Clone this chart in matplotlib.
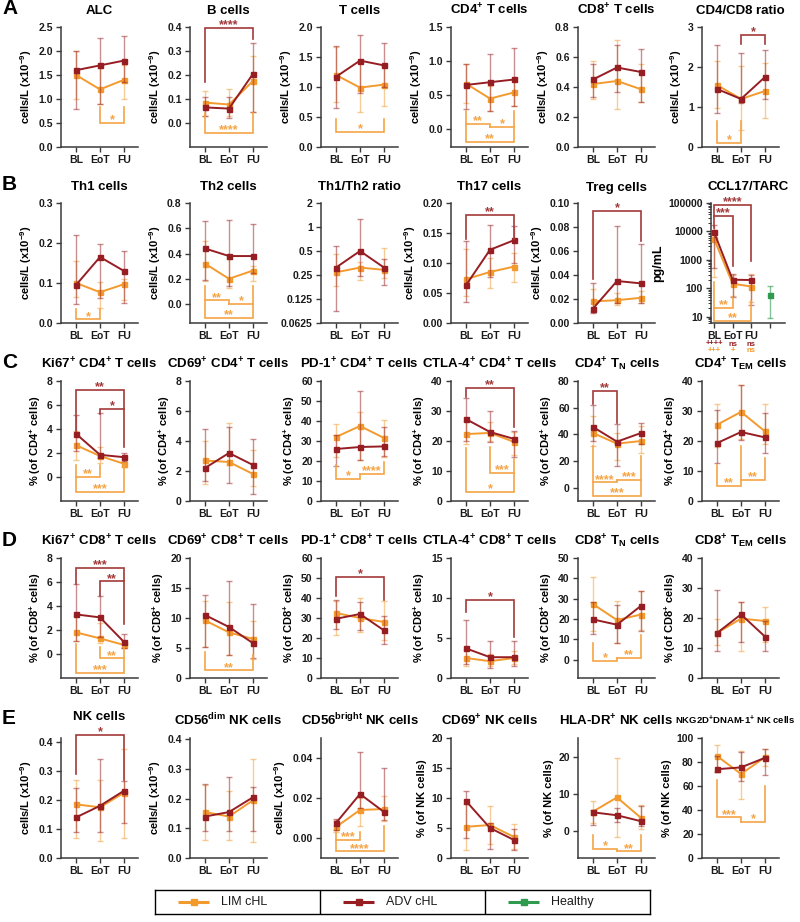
import matplotlib
matplotlib.use("Agg")
import matplotlib.pyplot as plt
from matplotlib.transforms import blended_transform_factory
from matplotlib.ticker import LogLocator, NullFormatter

plt.rcParams.update({
    "font.family": "Liberation Sans",
    "font.weight": "bold",
    "mathtext.fontset": "custom",
    "mathtext.rm": "Liberation Sans:bold",
    "mathtext.bf": "Liberation Sans:bold",
    "mathtext.it": "Liberation Sans:bold:italic",
    "mathtext.sf": "Liberation Sans:bold",
    "mathtext.default": "rm",
    "axes.linewidth": 1.1,
    "axes.edgecolor": "#3a3a3a",
    "xtick.major.width": 1.0,
    "ytick.major.width": 1.0,
    "xtick.major.size": 3.5,
    "ytick.major.size": 3.5,
    "xtick.color": "#3a3a3a",
    "ytick.color": "#3a3a3a",
    "xtick.labelcolor": "#1a1a1a",
    "ytick.labelcolor": "#1a1a1a",
    "xtick.labelsize": 7.5,
    "ytick.labelsize": 7.5,
})

LIM_C = "#F39A2E"
ADV_C = "#961E23"
HEALTHY_C = "#2E9B4E"
SIG_C = {"lim": "#F6A445", "adv": "#A33A3A"}

timepoints = ["BL", "EoT", "FU"]

# %%
# values: (median, lower bar end, upper bar end) for BL, EoT, FU
alc_lim = [(1.5, 1.0, 2.0), (1.2, 0.9, 1.65), (1.4, 1.0, 1.7)]
alc_adv = [(1.6, 0.8, 2.0), (1.7, 0.9, 2.28), (1.8, 1.35, 2.32)]
bcell_lim = [(0.085, 0.03, 0.135), (0.077, 0.03, 0.14), (0.175, 0.045, 0.28)]
bcell_adv = [(0.065, 0.03, 0.11), (0.06, 0.02, 0.11), (0.205, 0.045, 0.335)]
tcell_lim = [(1.2, 0.75, 1.67), (0.99, 0.59, 1.40), (1.04, 0.68, 1.35)]
tcell_adv = [(1.17, 0.65, 1.68), (1.44, 0.9, 1.87), (1.36, 1.0, 1.74)]
cd4_lim = [(0.67, 0.38, 0.96), (0.45, 0.27, 0.63), (0.54, 0.34, 0.72)]
cd4_adv = [(0.65, 0.30, 0.96), (0.69, 0.27, 1.10), (0.73, 0.34, 1.19)]
cd8_lim = [(0.42, 0.32, 0.57), (0.44, 0.25, 0.71), (0.385, 0.30, 0.555)]
cd8_adv = [(0.45, 0.33, 0.55), (0.53, 0.365, 0.68), (0.50, 0.30, 0.65)]
ratio_lim = [(1.55, 0.97, 2.15), (1.2, 0.43, 2.02), (1.4, 0.73, 2.1)]
ratio_adv = [(1.45, 0.85, 2.55), (1.2, 1.1, 2.34), (1.75, 1.2, 2.42)]

th1_lim = [(0.1, 0.065, 0.155), (0.077, 0.037, 0.103), (0.097, 0.058, 0.11)]
th1_adv = [(0.095, 0.047, 0.22), (0.165, 0.063, 0.197), (0.13, 0.05, 0.18)]
th2_lim = [(0.32, 0.18, 0.5), (0.2, 0.13, 0.36), (0.265, 0.18, 0.3)]
th2_adv = [(0.44, 0.19, 0.655), (0.38, 0.14, 0.665), (0.38, 0.245, 0.63)]
th1th2_lim = [(0.27, 0.184, 0.46), (0.31, 0.214, 0.36), (0.29, 0.23, 0.54)]
th1th2_adv = [(0.31, 0.088, 0.57), (0.5, 0.24, 1.26), (0.31, 0.19, 0.40)]
th17_lim = [(0.073, 0.045, 0.124), (0.085, 0.058, 0.108), (0.094, 0.069, 0.117)]
th17_adv = [(0.063, 0.035, 0.137), (0.122, 0.077, 0.164), (0.138, 0.10, 0.161)]
treg_lim = [(0.018, 0.010, 0.028), (0.019, 0.015, 0.025), (0.021, 0.017, 0.027)]
treg_adv = [(0.012, 0.008, 0.033), (0.035, 0.017, 0.081), (0.033, 0.017, 0.066)]
ccl17_lim = [(5500, 240, 10000), (145, 55, 290), (115, 33, 320)]
ccl17_adv = [(9500, 500, 17000), (200, 50, 320), (195, 25, 300)]
ccl17_healthy = (60, 9, 118)
ccl17_vs_healthy_adv = ["++++", "ns", "ns"]
ccl17_vs_healthy_lim = ["+++", "+", "ns"]

ki67cd4_lim = [(2.65, 1.45, 3.8), (1.75, 1.2, 2.5), (1.1, 0.8, 1.5)]
ki67cd4_adv = [(3.6, 2.2, 5.2), (1.85, 1.6, 5.3), (1.65, 1.3, 2.0)]
cd69cd4_lim = [(2.7, 1.1, 4.0), (2.6, 2.4, 5.2), (1.8, 1.0, 3.4)]
cd69cd4_adv = [(2.2, 1.3, 4.8), (3.2, 1.2, 4.9), (2.4, 0.47, 4.15)]
pd1cd4_lim = [(32, 22, 38.5), (37.5, 20.5, 44.5), (31.5, 22, 40.5)]
pd1cd4_adv = [(26, 17.5, 33), (27, 20.5, 55), (27.3, 22.5, 37)]
ctla4cd4_lim = [(22.3, 19, 26.5), (22.7, 20, 26.4), (19.7, 15.3, 23)]
ctla4cd4_adv = [(27.3, 20, 34.4), (23, 19.7, 30), (20.7, 14.8, 23.3)]
cd4tn_lim = [(41, 31, 54), (33, 21, 41), (35, 26, 46)]
cd4tn_adv = [(45.5, 35, 62), (34.5, 16, 48), (41, 33, 48.5)]
cd4tem_lim = [(25.4, 18, 32.3), (29.7, 20.5, 38.7), (23.2, 19, 32.3)]
cd4tem_adv = [(19.3, 12.5, 30.2), (23, 20.2, 38.7), (21.2, 16, 29.3)]

ki67cd8_lim = [(1.8, 1.1, 3.2), (1.3, 0.9, 2.6), (0.75, 0.5, 1.1)]
ki67cd8_adv = [(3.3, 1.1, 5.8), (3.05, 1.4, 4.85), (1.0, 0.5, 1.65)]
cd69cd8_lim = [(9.6, 5.2, 12.8), (7.6, 3.8, 12.6), (6.5, 3.2, 9.5)]
cd69cd8_adv = [(10.5, 5.2, 13.9), (8.5, 3.8, 16.2), (5.8, 3.3, 12.4)]
pd1cd8_lim = [(32.5, 21.5, 38.6), (30, 23, 40), (28, 19, 38.5)]
pd1cd8_adv = [(29.6, 24.5, 38.8), (32, 24, 38), (23.8, 17, 30.8)]
ctla4cd8_lim = [(2.5, 1.5, 3.5), (2.1, 1.5, 3.0), (2.5, 1.7, 3.4)]
ctla4cd8_adv = [(3.7, 1.8, 7.3), (2.6, 1.3, 4.6), (2.6, 1.5, 4.6)]
cd8tn_lim = [(27.3, 14, 40.8), (19.5, 8, 29), (22.2, 14.5, 33.8)]
cd8tn_adv = [(19.8, 12.5, 28.5), (17.2, 8, 27), (26.5, 14, 33.8)]
cd8tem_lim = [(15, 11, 19.8), (19.8, 9, 25.3), (19, 12, 23.7)]
cd8tem_adv = [(15, 9, 29.5), (21.2, 12, 25.5), (13.8, 9, 18.9)]

nk_lim = [(0.185, 0.07, 0.27), (0.175, 0.06, 0.27), (0.225, 0.07, 0.375)]
nk_adv = [(0.14, 0.09, 0.24), (0.18, 0.09, 0.34), (0.232, 0.12, 0.265)]
cd56dim_lim = [(0.155, 0.06, 0.245), (0.14, 0.06, 0.225), (0.195, 0.055, 0.335)]
cd56dim_adv = [(0.14, 0.09, 0.25), (0.155, 0.09, 0.275), (0.205, 0.09, 0.24)]
cd56br_lim = [(0.0055, 0.003, 0.009), (0.014, 0.006, 0.02), (0.0145, 0.0085, 0.021)]
cd56br_adv = [(0.0075, 0.004, 0.0095), (0.022, 0.015, 0.043), (0.013, 0.009, 0.035)]
cd69nk_lim = [(5.2, 1.3, 9.0), (5.5, 2.4, 8.6), (3.5, 1.5, 5.6)]
cd69nk_adv = [(9.5, 3.3, 11.2), (5.0, 1.5, 5.8), (3.0, 1.4, 4.9)]
hladr_lim = [(5.2, 2.0, 8.0), (9.0, -1.7, 19.7), (3.5, 0.5, 7.0)]
hladr_adv = [(5.0, 1.5, 5.5), (4.2, 2.4, 6.2), (2.6, 1.2, 6.7)]
nkg2d_lim = [(85, 72, 94), (70, 49, 89), (84, 77, 91)]
nkg2d_adv = [(74, 72, 85), (75.5, 64, 88), (83.5, 69, 91)]

# significance brackets: (group, from, to, level, left arm end, right arm end, stars)
alc_sig = [("lim", 1, 2, 0.5, 0.83, 0.83, "*")]
bcell_sig = [("adv", 0, 2, 0.395, 0.17, 0.35, "****"), ("lim", 0, 2, -0.042, 0.04, 0.04, "****")]
tcell_sig = [("lim", 0, 2, 0.25, 0.47, 0.47, "*")]
cd4_sig = [("lim", 0, 1, 0.08, 0.27, 0.03, "**"), ("lim", 1, 2, 0.03, 0.03, 0.27, "*"),
           ("lim", 0, 2, -0.18, 0.08, 0.03, "**")]
cd8_sig = []
ratio_sig = [("adv", 1, 2, 2.8, 2.58, 2.58, "*"), ("lim", 0, 1, 0.1, 0.65, 0.65, "*")]
th1_sig = [("lim", 0, 1, 0.009, 0.034, 0.034, "*")]
th2_sig = [("lim", 0, 1, 0.03, 0.14, 0.0, "**"), ("lim", 1, 2, 0.0, 0.0, 0.14, "*"),
           ("lim", 0, 2, -0.11, 0.03, 0.0, "**")]
th1th2_sig = []
th17_sig = [("adv", 0, 2, 0.18, 0.14, 0.14, "**")]
treg_sig = [("adv", 0, 2, 0.0935, 0.037, 0.068, "*")]
ccl17_sig = [("adv", 0, 2, 85000, 12800, 930, "****"), ("adv", 0, 1, 35000, 35000, 600, "***"),
             ("lim", 0, 1, 20, 160, 46, "**"), ("lim", 0, 2, 7.3, 20, 35, "**")]
ki67cd4_sig = [("adv", 0, 2, 7.23, 3.8, 2.5, "**"), ("adv", 1, 2, 5.65, 5.25, 5.65, "*"),
               ("lim", 0, 1, 0.0, 1.0, 1.0, "**"), ("lim", 0, 2, -1.25, 0.0, 1.0, "***")]
cd69cd4_sig = []
pd1cd4_sig = [("lim", 0, 1, 11.0, 18, 13.5, "*"), ("lim", 1, 2, 13.5, 13.5, 19.7, "****")]
ctla4cd4_sig = [("adv", 0, 2, 37.7, 34.5, 24.5, "**"), ("lim", 1, 2, 9.3, 18, 14, "***"),
                ("lim", 0, 2, 3.0, 17.7, 9.3, "*")]
cd4tn_sig = [("adv", 0, 1, 72.5, 63, 48.7, "**"), ("lim", 0, 1, 4, 31, 6, "****"),
             ("lim", 1, 2, 6, 6, 24, "***"), ("lim", 0, 2, -6, 4, 6, "***")]
cd4tem_sig = [("lim", 0, 1, 5.0, 12, 18.3, "**"), ("lim", 1, 2, 7.0, 7.0, 14.3, "**")]
ki67cd8_sig = [("adv", 0, 2, 7.2, 5.8, 2.5, "***"), ("adv", 1, 2, 6.05, 4.84, 6.05, "**"),
               ("lim", 1, 2, -0.36, 0.56, 0.56, "**"), ("lim", 0, 2, -1.6, 0.83, -0.36, "***")]
cd69cd8_sig = [("lim", 0, 2, 1.28, 4.4, 3.9, "**")]
pd1cd8_sig = [("adv", 0, 2, 50.5, 41, 39, "*")]
ctla4cd8_sig = [("adv", 0, 2, 9.8, 8.3, 5.1, "*")]
cd8tn_sig = [("lim", 0, 1, -0.5, 8, 0.8, "*"), ("lim", 1, 2, 0.8, 0.8, 12, "**")]
cd8tem_sig = []
nk_sig = [("adv", 0, 2, 0.425, 0.29, 0.27, "*")]
cd56dim_sig = []
cd56br_sig = [("lim", 0, 1, -0.0008, 0.003, 0.003, "***"), ("lim", 0, 2, -0.0067, -0.0008, 0.006, "****")]
cd69nk_sig = []
hladr_sig = [("lim", 0, 1, -4.9, -1.2, -5.5, "*"), ("lim", 1, 2, -5.5, -5.5, -1.2, "**")]
nkg2d_sig = [("lim", 0, 1, 33.8, 65, 30.4, "***"), ("lim", 1, 2, 30.4, 30.4, 60, "*")]

# %%
CELLS = "cells/L (x10$^{-9}$)"
PCT4 = "% (of CD4$^{+}$ cells)"
PCT8 = "% (of CD8$^{+}$ cells)"
PCTNK = "% (of NK cells)"

def rng(a, b, s):
    out, v = [], a
    while v <= b + 1e-9:
        out.append(round(v, 6))
        v += s
    return out

# row, col, title, ylabel, lim, adv, sig, ylim, yticks, fmt, scale
panels = [
    (0, 0, "ALC", CELLS, alc_lim, alc_adv, alc_sig, (0, 2.5), rng(0, 2.5, 0.5), "{:.1f}", None),
    (0, 1, "B cells", CELLS, bcell_lim, bcell_adv, bcell_sig, (-0.1, 0.4), rng(0, 0.4, 0.1), "{:.1f}", None),
    (0, 2, "T cells", CELLS, tcell_lim, tcell_adv, tcell_sig, (0, 2.0), rng(0, 2, 0.5), "{:.1f}", None),
    (0, 3, "CD4$^{+}$ T cells", CELLS, cd4_lim, cd4_adv, cd4_sig, (-0.26, 1.5), rng(0, 1.5, 0.5), "{:.1f}", None),
    (0, 4, "CD8$^{+}$ T cells", CELLS, cd8_lim, cd8_adv, cd8_sig, (0, 0.8), rng(0, 0.8, 0.2), "{:.1f}", None),
    (0, 5, "CD4/CD8 ratio", CELLS, ratio_lim, ratio_adv, ratio_sig, (0, 3), rng(0, 3, 1), "{:.0f}", None),
    (1, 0, "Th1 cells", CELLS, th1_lim, th1_adv, th1_sig, (0, 0.3), rng(0, 0.3, 0.1), "{:.1f}", None),
    (1, 1, "Th2 cells", CELLS, th2_lim, th2_adv, th2_sig, (-0.15, 0.8), rng(0, 0.8, 0.2), "{:.1f}", None),
    (1, 2, "Th1/Th2 ratio", "", th1th2_lim, th1th2_adv, th1th2_sig, (0.0625, 2),
     [0.0625, 0.125, 0.25, 0.5, 1, 2], "{:g}", 2),
    (1, 3, "Th17 cells", CELLS, th17_lim, th17_adv, th17_sig, (0, 0.2), rng(0, 0.2, 0.05), "{:.2f}", None),
    (1, 4, "Treg cells", CELLS, treg_lim, treg_adv, treg_sig, (0, 0.1), rng(0, 0.1, 0.02), "{:.2f}", None),
    (1, 5, "CCL17/TARC", "pg/mL", ccl17_lim, ccl17_adv, ccl17_sig, (6, 100000),
     [10, 100, 1000, 10000, 100000], "{:g}", 10),
    (2, 0, "Ki67$^{+}$ CD4$^{+}$ T cells", PCT4, ki67cd4_lim, ki67cd4_adv, ki67cd4_sig, (-2, 8), rng(0, 8, 2), "{:.0f}", None),
    (2, 1, "CD69$^{+}$ CD4$^{+}$ T cells", PCT4, cd69cd4_lim, cd69cd4_adv, cd69cd4_sig, (0, 8), rng(0, 8, 2), "{:.0f}", None),
    (2, 2, "PD-1$^{+}$ CD4$^{+}$ T cells", PCT4, pd1cd4_lim, pd1cd4_adv, pd1cd4_sig, (0, 60), rng(0, 60, 10), "{:.0f}", None),
    (2, 3, "CTLA-4$^{+}$ CD4$^{+}$ T cells", PCT4, ctla4cd4_lim, ctla4cd4_adv, ctla4cd4_sig, (0, 40), rng(0, 40, 10), "{:.0f}", None),
    (2, 4, "CD4$^{+}$ T$_{N}$ cells", PCT4, cd4tn_lim, cd4tn_adv, cd4tn_sig, (-10, 80), rng(0, 80, 20), "{:.0f}", None),
    (2, 5, "CD4$^{+}$ T$_{EM}$ cells", PCT4, cd4tem_lim, cd4tem_adv, cd4tem_sig, (0, 40), rng(0, 40, 10), "{:.0f}", None),
    (3, 0, "Ki67$^{+}$ CD8$^{+}$ T cells", PCT8, ki67cd8_lim, ki67cd8_adv, ki67cd8_sig, (-2, 8), rng(0, 8, 2), "{:.0f}", None),
    (3, 1, "CD69$^{+}$ CD8$^{+}$ T cells", PCT8, cd69cd8_lim, cd69cd8_adv, cd69cd8_sig, (0, 20), rng(0, 20, 5), "{:.0f}", None),
    (3, 2, "PD-1$^{+}$ CD8$^{+}$ T cells", PCT8, pd1cd8_lim, pd1cd8_adv, pd1cd8_sig, (0, 60), rng(0, 60, 10), "{:.0f}", None),
    (3, 3, "CTLA-4$^{+}$ CD8$^{+}$ T cells", PCT8, ctla4cd8_lim, ctla4cd8_adv, ctla4cd8_sig, (0, 15), rng(0, 15, 5), "{:.0f}", None),
    (3, 4, "CD8$^{+}$ T$_{N}$ cells", PCT8, cd8tn_lim, cd8tn_adv, cd8tn_sig, (-9, 50), rng(0, 50, 10), "{:.0f}", None),
    (3, 5, "CD8$^{+}$ T$_{EM}$ cells", PCT8, cd8tem_lim, cd8tem_adv, cd8tem_sig, (0, 40), rng(0, 40, 10), "{:.0f}", None),
    (4, 0, "NK cells", CELLS, nk_lim, nk_adv, nk_sig, (0, 0.414), rng(0, 0.4, 0.1), "{:.1f}", None),
    (4, 1, "CD56$^{dim}$ NK cells", CELLS, cd56dim_lim, cd56dim_adv, cd56dim_sig, (0, 0.405), rng(0, 0.4, 0.1), "{:.1f}", None),
    (4, 2, "CD56$^{bright}$ NK cells", CELLS, cd56br_lim, cd56br_adv, cd56br_sig, (-0.01, 0.05), [0, 0.02, 0.04], "{:.2f}", None),
    (4, 3, "CD69$^{+}$ NK cells", PCTNK, cd69nk_lim, cd69nk_adv, cd69nk_sig, (0, 20), rng(0, 20, 5), "{:.0f}", None),
    (4, 4, "HLA-DR$^{+}$ NK cells", PCTNK, hladr_lim, hladr_adv, hladr_sig, (-7.3, 25), [0, 10, 20], "{:.0f}", None),
    (4, 5, "NKG2D$^{+}$DNAM-1$^{+}$ NK cells", PCTNK, nkg2d_lim, nkg2d_adv, nkg2d_sig, (0, 100), rng(0, 100, 20), "{:.0f}", None),
]

# layout in pixels
W_PX, H_PX = 800, 922
col_bl = [76, 205, 336, 466, 593, 717]
row_top = [27, 203, 381, 558, 738]
AX_H = 120
STEP = 24

def rect(left, top, w, h):
    return [left / W_PX, 1 - (top + h) / H_PX, w / W_PX, h / H_PX]

def draw_group(ax, xs, vals, color, z):
    v = [t[0] for t in vals]
    lo = [t[0] - t[1] for t in vals]
    hi = [t[2] - t[0] for t in vals]
    ax.errorbar(xs, v, yerr=[lo, hi], fmt="none", ecolor=color, alpha=0.5,
                elinewidth=1.0, capsize=2.3, capthick=1.0, zorder=z)
    ax.plot(xs, v, color=color, lw=1.4, marker="s", ms=3.6, zorder=z + 1)

def bracket(ax, b):
    grp, x1, x2, y, a1, a2, stars = b
    c = SIG_C[grp]
    ax.plot([x1, x1, x2, x2], [a1, y, y, a2], color=c, lw=1.2, clip_on=False,
            solid_joinstyle="miter", zorder=5)
    ax.annotate(stars, ((x1 + x2) / 2, y), xytext=(0, -0.3), textcoords="offset points",
                ha="center", va="baseline", color=c, fontsize=9, fontweight="bold",
                annotation_clip=False, zorder=6)

fig = plt.figure(figsize=(8, 9.22), dpi=100)

for (r, c, title, ylab, lim, adv, sig, ylim, yt, fmt, scale) in panels:
    if scale == 10:
        # CCL17 panel has a fourth (healthy) group and tighter spacing
        step = 18.5
        ax = fig.add_axes(rect(711, row_top[r], 74, AX_H))
        ax.set_xlim(-3 / step, 3 + 15 / step)
    else:
        left = col_bl[c] - 15
        ax = fig.add_axes(rect(left, row_top[r], 15 + 2 * STEP + 14, AX_H))
        ax.set_xlim(-15 / STEP, 2 + 14 / STEP)

    if scale:
        ax.set_yscale("log", base=scale)
    ax.set_ylim(*ylim)

    xs = [0, 1, 2]
    draw_group(ax, xs, lim, LIM_C, 2)
    draw_group(ax, xs, adv, ADV_C, 3)

    if scale == 10:
        hv, hlo, hhi = ccl17_healthy
        ax.errorbar([3], [hv], yerr=[[hv - hlo], [hhi - hv]], fmt="none", ecolor=HEALTHY_C,
                    alpha=0.6, elinewidth=1.0, capsize=2.3, capthick=1.0, zorder=2)
        ax.plot([3], [hv], color=HEALTHY_C, marker="s", ms=3.6, zorder=3)
        ax.set_xticks([0, 1, 2, 3])
        ax.set_xticklabels(timepoints + [""])
        ax.yaxis.set_minor_locator(LogLocator(base=10, subs=range(2, 10), numticks=20))
        ax.yaxis.set_minor_formatter(NullFormatter())
        ax.tick_params(axis="y", which="minor", length=2, width=0.7)
        tr = blended_transform_factory(ax.transData, ax.transAxes)
        for i in range(3):
            ax.text(i, -0.175, ccl17_vs_healthy_adv[i], transform=tr, ha="center", va="center",
                    fontsize=5.5, color=ADV_C)
            ax.text(i, -0.23, ccl17_vs_healthy_lim[i], transform=tr, ha="center", va="center",
                    fontsize=5.5, color=LIM_C)
    else:
        ax.set_xticks(xs)
        ax.set_xticklabels(timepoints)
        if scale:
            ax.minorticks_off()

    ax.set_yticks(yt)
    ax.set_yticklabels([fmt.format(t) for t in yt])

    for s in ("top", "right"):
        ax.spines[s].set_visible(False)
    ax.tick_params(axis="both", which="major", pad=2.5)

    if "NKG2D" in title:
        ax.set_title(title, fontsize=6.8, fontweight="bold", pad=10, x=0.43)
    elif title == "NK cells":
        ax.set_title(title, fontsize=9.5, fontweight="bold", pad=13)
    else:
        ax.set_title(title, fontsize=9.5, fontweight="bold", pad=9)
    if ylab:
        ax.set_ylabel(ylab, fontsize=8 if ylab != "pg/mL" else 9, fontweight="bold", labelpad=3)

    for b in sig:
        bracket(ax, b)

for letter, y in zip("ABCDE", [9, 184, 363, 541, 718]):
    fig.text(2 / W_PX, 1 - y / H_PX, letter, fontsize=15, fontweight="bold", va="center", ha="left")

# legend box
lax = fig.add_axes(rect(155, 890, 495, 24))
lax.set_xlim(0, 3)
lax.set_ylim(0, 1)
lax.set_xticks([])
lax.set_yticks([])
for s in lax.spines.values():
    s.set_color("black")
    s.set_linewidth(1.0)
for i, (name, col) in enumerate([("LIM cHL", LIM_C), ("ADV cHL", ADV_C), ("Healthy", HEALTHY_C)]):
    lax.plot([i + 0.14, i + 0.33], [0.5, 0.5], color=col, lw=2.2, solid_capstyle="butt")
    lax.plot([i + 0.235], [0.5], color=col, marker="s", ms=5)
    lax.text(i + 0.40, 0.5, name, va="center", ha="left", fontsize=9, fontweight="normal", color="#1a1a1a")
    if i > 0:
        lax.axvline(i, color="black", lw=1.0)

fig.savefig("out.png", dpi=100)
